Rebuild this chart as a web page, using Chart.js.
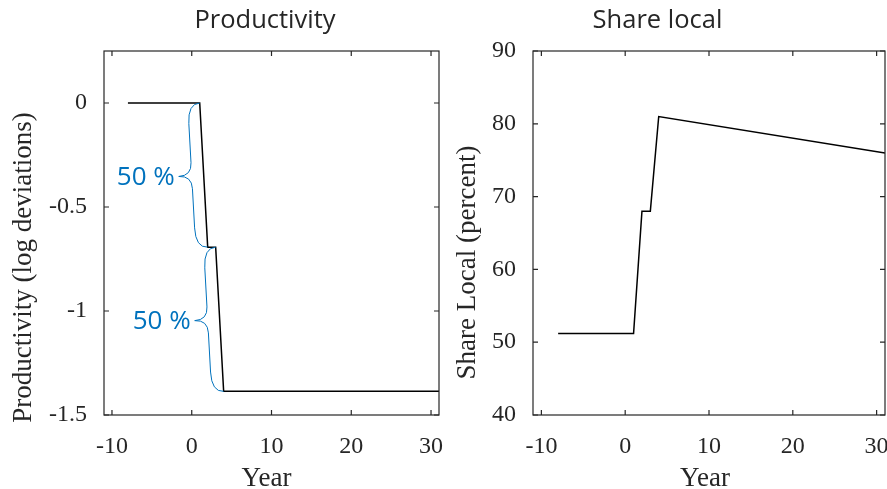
<!DOCTYPE html>
<html>
<head>
<meta charset="utf-8">
<script src="https://cdn.jsdelivr.net/npm/chart.js@4.4.1/dist/chart.umd.min.js"></script>
<style>
  html, body { margin: 0; padding: 0; background: #fff; }
  #wrap { position: relative; width: 887px; height: 489px; overflow: hidden; }
  canvas { position: absolute; top: 0; }
  #prod { left: 0; }
  #share { left: 450px; }
</style>
</head>
<body>
<div id="wrap">
  <canvas id="prod" width="450" height="489"></canvas>
  <canvas id="share" width="437" height="489"></canvas>
</div>
<script>
// Productivity path (log deviations) and share of local sourcing (percent) by year
const years = [-8, 1, 2, 3, 4, 31];
const productivity = [0, 0, -0.6931, -0.6931, -1.3863, -1.3863];
const shareYears = [-8, 1, 2, 3, 4, 31];
const shareLocal = [51.2, 51.2, 68, 68, 81, 76];

const yearTicks = [-10, 0, 10, 20, 30];
const productivityTicks = [-1.5, -1, -0.5, 0];
const shareTicks = [40, 50, 60, 70, 80, 90];

// Productivity drops marked with a brace: [first index, last index]
const drops = [[1, 2], [3, 4]];

const AXIS_COLOR = '#262626';
const BRACE_COLOR = '#0072BD';
const SERIF = '"Liberation Serif", "Times New Roman", serif';
const SANS = '"Open Sans", "Noto Sans", sans-serif';

Chart.defaults.font.family = SERIF;
Chart.defaults.color = AXIS_COLOR;

// Box around the plot area with inward tick marks on all four sides
const framePlugin = {
  id: 'frame',
  afterDraw(chart) {
    const { ctx, chartArea: a, scales: { x, y } } = chart;
    const len = 5;
    ctx.save();
    ctx.strokeStyle = AXIS_COLOR;
    ctx.lineWidth = 1.2;
    ctx.strokeRect(a.left, a.top, a.right - a.left, a.bottom - a.top);
    ctx.beginPath();
    x.ticks.forEach(t => {
      const px = x.getPixelForValue(t.value);
      ctx.moveTo(px, a.bottom); ctx.lineTo(px, a.bottom - len);
      ctx.moveTo(px, a.top); ctx.lineTo(px, a.top + len);
    });
    y.ticks.forEach(t => {
      const py = y.getPixelForValue(t.value);
      ctx.moveTo(a.left, py); ctx.lineTo(a.left + len, py);
      ctx.moveTo(a.right, py); ctx.lineTo(a.right - len, py);
    });
    ctx.stroke();
    ctx.restore();
  }
};

// Panel title and axis titles
const labelsPlugin = {
  id: 'labels',
  afterDraw(chart, args, opts) {
    const { ctx } = chart;
    ctx.save();
    ctx.fillStyle = AXIS_COLOR;
    ctx.textAlign = 'center';
    ctx.textBaseline = 'alphabetic';
    ctx.font = '25.5px ' + SANS;
    ctx.fillText(opts.title, opts.titleX, 28);
    ctx.font = '27px ' + SERIF;
    ctx.fillText(opts.xTitle, opts.xTitleX, 486);
    ctx.translate(opts.yTitleX, opts.yTitleY);
    ctx.rotate(-Math.PI / 2);
    ctx.textBaseline = 'middle';
    ctx.fillText(opts.yTitle, 0, 0);
    ctx.restore();
  }
};

function drawBrace(ctx, p0, p1, w, tip) {
  const dx = p1.x - p0.x, dy = p1.y - p0.y;
  const L = Math.hypot(dx, dy);
  const ux = dx / L, uy = dy / L;
  const nx = -uy, ny = ux;
  const P = (t, s) => [p0.x + ux * t + nx * s, p0.y + uy * t + ny * s];
  const a = 20, b = 13, h = L / 2;
  ctx.beginPath();
  ctx.moveTo(...P(0, 0));
  ctx.quadraticCurveTo(...P(0, w), ...P(a, w));
  ctx.lineTo(...P(h - b, w));
  ctx.quadraticCurveTo(...P(h, w), ...P(h, tip));
  ctx.quadraticCurveTo(...P(h, w), ...P(h + b, w));
  ctx.lineTo(...P(L - a, w));
  ctx.quadraticCurveTo(...P(L, w), ...P(L, 0));
  ctx.stroke();
  const t = P(h, tip);
  return { x: t[0], y: t[1] };
}

// Braces beside each productivity drop, labelled with the size of the drop
const bracePlugin = {
  id: 'braces',
  afterDatasetsDraw(chart) {
    const { ctx, scales: { x, y } } = chart;
    ctx.save();
    ctx.strokeStyle = BRACE_COLOR;
    ctx.fillStyle = BRACE_COLOR;
    ctx.lineWidth = 1;
    ctx.font = '26px ' + SANS;
    ctx.textAlign = 'right';
    ctx.textBaseline = 'middle';
    drops.forEach(([i, j]) => {
      const p0 = { x: x.getPixelForValue(years[i]), y: y.getPixelForValue(productivity[i]) };
      const p1 = { x: x.getPixelForValue(years[j]), y: y.getPixelForValue(productivity[j]) };
      const tipPt = drawBrace(ctx, p0, p1, 12, 25);
      const pct = Math.round((1 - Math.exp(productivity[j] - productivity[i])) * 100);
      ctx.fillText(pct + ' %', tipPt.x - 4, tipPt.y + 1);
    });
    ctx.restore();
  }
};

function makeChart(id, xs, ys, yMin, yMax, yTickVals, yAxisWidth, rightPad, labels, extra) {
  return new Chart(document.getElementById(id), {
    type: 'line',
    data: {
      datasets: [{
        data: xs.map((v, i) => ({ x: v, y: ys[i] })),
        borderColor: '#000',
        borderWidth: 1.5,
        pointRadius: 0,
        tension: 0,
        fill: false
      }]
    },
    options: {
      responsive: false,
      animation: false,
      devicePixelRatio: 1,
      layout: { padding: { top: 51, right: rightPad, left: 0, bottom: 0 } },
      scales: {
        x: {
          type: 'linear', min: -11, max: 31,
          grid: { display: false, drawTicks: false },
          border: { display: false },
          afterBuildTicks: s => { s.ticks = yearTicks.map(v => ({ value: v })); },
          afterFit: s => { s.height = 74; s.paddingLeft = 0; s.paddingRight = 0; },
          ticks: { font: { size: 24 }, padding: 17, maxRotation: 0, callback: v => String(v) }
        },
        y: {
          type: 'linear', min: yMin, max: yMax,
          grid: { display: false, drawTicks: false },
          border: { display: false },
          afterBuildTicks: s => { s.ticks = yTickVals.map(v => ({ value: v })); },
          afterFit: s => { s.width = yAxisWidth; s.paddingTop = 0; s.paddingBottom = 0; },
          ticks: { font: { size: 24 }, padding: 17, callback: v => String(v) }
        }
      },
      plugins: {
        legend: { display: false },
        tooltip: { enabled: false },
        labels: labels
      }
    },
    plugins: [framePlugin, labelsPlugin].concat(extra)
  });
}

makeChart('prod', years, productivity, -1.5, 0.25, productivityTicks, 104, 11,
  { title: 'Productivity', titleX: 265, xTitle: 'Year', xTitleX: 266.5,
    yTitle: 'Productivity (log deviations)', yTitleX: 24, yTitleY: 267.5 },
  [bracePlugin]);

makeChart('share', shareYears, shareLocal, 40, 90, shareTicks, 83, 2,
  { title: 'Share local', titleX: 207.5, xTitle: 'Year', xTitleX: 255,
    yTitle: 'Share Local (percent)', yTitleX: 18, yTitleY: 262.5 },
  []);
</script>
</body>
</html>
